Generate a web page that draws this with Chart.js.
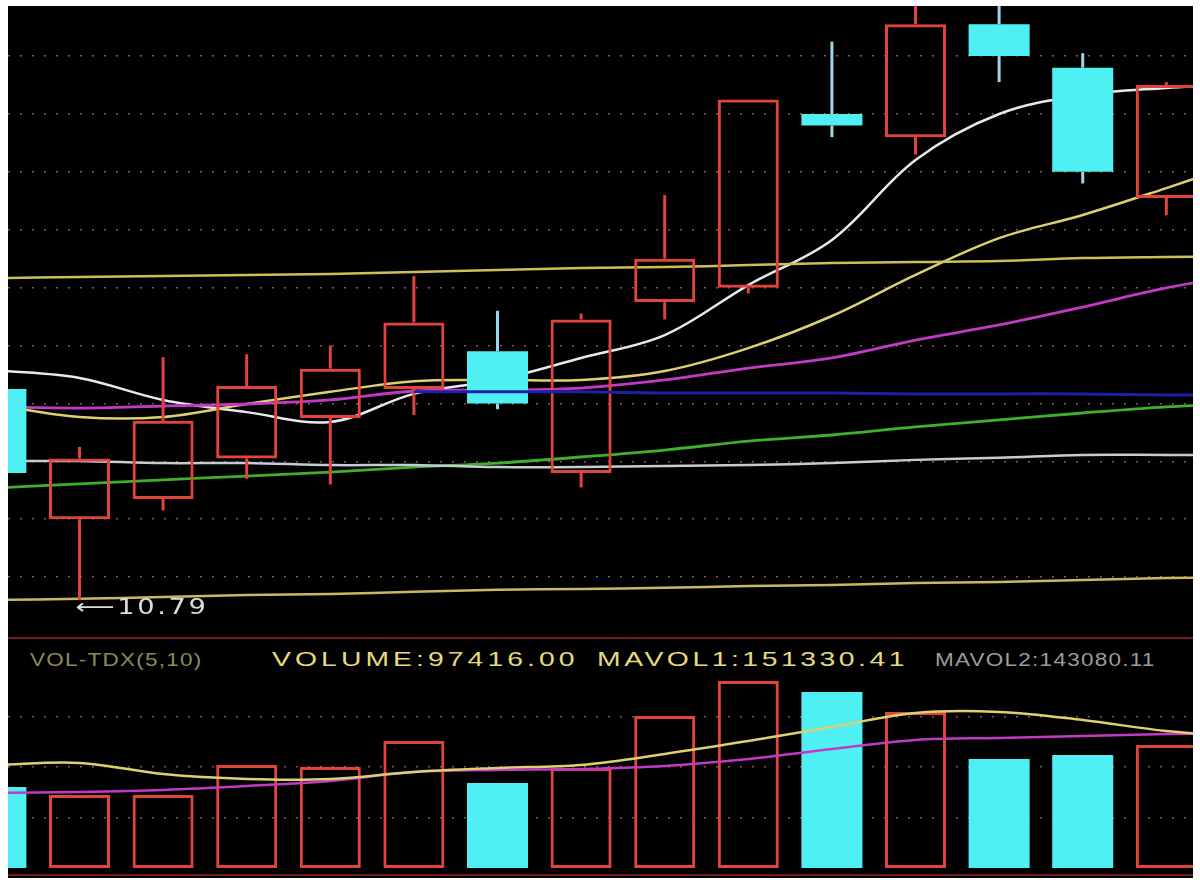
<!DOCTYPE html>
<html lang="en">
<head>
<meta charset="UTF-8">
<title>K-Line</title>
<style>
  body { margin: 0; background: #fff; font-family: "Liberation Sans", Arial, sans-serif; }
  #panel { position: absolute; left: 8px; top: 6px; width: 1185px; height: 872px; background: #000; overflow: hidden; }
  #priceChart { position: absolute; left: 0; top: 0; }
  #volChart { position: absolute; left: 0; top: 666px; }
  .sep { position: absolute; left: 0; width: 1185px; height: 2px; background: #741c1c; }
  #info span { position: absolute; top: 641px; white-space: nowrap; transform-origin: left top; }
  .hl { font-size: 21px; color: #e6d97e; letter-spacing: 3px; transform: scaleX(1.35); }
  .dim { font-size: 18px; letter-spacing: 1px; transform: scaleX(1.25); }
</style>
</head>
<body>
<div id="panel">
  <canvas id="priceChart" width="1185" height="629"></canvas>
  <div class="sep" style="top:631px"></div>
  <div id="info">
    <span class="dim" style="left:22px; top:644px; color:#8c8c56">VOL-TDX(5,10)</span>
    <span class="hl" style="left:264px">VOLUME:97416.00</span>
    <span class="hl" style="left:589px; letter-spacing:2.6px">MAVOL1:151330.41</span>
    <span class="dim" style="left:927px; top:644px; color:#9c9c9c">MAVOL2:143080.11</span>
  </div>
  <canvas id="volChart" width="1185" height="196"></canvas>
  <div class="sep" style="top:868px"></div>
</div>

<script src="https://cdn.jsdelivr.net/npm/chart.js@4"></script>
<script>
// day 15 is the next session, off the right edge; only its averages reach into view
const dayIndex = [0, 1, 2, 3, 4, 5, 6, 7, 8, 9, 10, 11, 12, 13, 14, 15];

const openP  = [11.52, 11.07, 11.14, 11.28, 11.42, 11.52, 11.65, 11.23, 11.82, 11.87, 12.47, 12.39, 12.78, 12.63, 12.18, null];
const highP  = [11.55, 11.32, 11.63, 11.64, 11.67, 11.91, 11.79, 11.78, 12.19, 12.52, 12.72, 12.90, 12.90, 12.68, 12.58, null];
const lowP   = [11.20, 10.79, 11.10, 11.21, 11.19, 11.43, 11.45, 11.18, 11.76, 11.85, 12.39, 12.33, 12.58, 12.23, 12.12, null];
const closeP = [11.23, 11.28, 11.41, 11.53, 11.59, 11.75, 11.47, 11.76, 11.97, 12.52, 12.43, 12.78, 12.67, 12.27, 12.57, null];

// moving averages / bands on the price panel
const ma5    = [11.585, 11.558, 11.482, 11.440, 11.406, 11.503, 11.551, 11.627, 11.706, 11.879, 12.035, 12.311, 12.470, 12.535, 12.560, 12.577];
const ma10   = [11.465, 11.423, 11.423, 11.468, 11.510, 11.547, 11.551, 11.551, 11.582, 11.661, 11.772, 11.914, 12.041, 12.121, 12.214, 12.311];
const ma20   = [11.458, 11.454, 11.461, 11.468, 11.482, 11.513, 11.516, 11.523, 11.551, 11.592, 11.627, 11.689, 11.741, 11.803, 11.869, 11.920];
const ma30   = [null, null, null, null, null, 11.510, 11.510, 11.510, 11.506, 11.506, 11.506, 11.503, 11.503, 11.503, 11.499, 11.499];
const ma60   = [11.178, 11.192, 11.206, 11.219, 11.233, 11.250, 11.264, 11.285, 11.309, 11.340, 11.361, 11.389, 11.413, 11.437, 11.458, 11.471];
const ma120  = [11.271, 11.271, 11.264, 11.264, 11.257, 11.257, 11.250, 11.250, 11.254, 11.257, 11.264, 11.275, 11.282, 11.292, 11.292, 11.292];
const bandUp = [11.903, 11.907, 11.910, 11.914, 11.917, 11.924, 11.931, 11.938, 11.941, 11.948, 11.955, 11.959, 11.962, 11.972, 11.976, 11.979];
const bandLo = [10.791, 10.795, 10.801, 10.808, 10.812, 10.819, 10.826, 10.829, 10.833, 10.839, 10.843, 10.850, 10.853, 10.860, 10.867, 10.870];

const volume = [64150, 57800, 57800, 81600, 80000, 100600, 67300, 79200, 120400, 148100, 139400, 123600, 86300, 89500, 97416, null];
const mavol1 = [81600, 83200, 74400, 70500, 70500, 76000, 79200, 81600, 90300, 100600, 111700, 122800, 123600, 117200, 108500, 103750];
const mavol2 = [59400, 60200, 61800, 64900, 68900, 76000, 77600, 78400, 80800, 86300, 94200, 101400, 103000, 104500, 106100, 106900];

const priceGrid = [10.87, 11.07, 11.27, 11.47, 11.67, 11.87, 12.07, 12.27, 12.47, 12.67];
const volGrid = [40000, 80000, 120000];

const UP = '#e0443c';
const DOWN = '#4ef0f4';
const DOWN_WICK = '#9cd6e8';
const CLEAR = 'rgba(0,0,0,0)';

const candleDays = dayIndex.filter(i => openP[i] !== null);
const isUp = candleDays.map(i => closeP[i] >= openP[i]);
const pts = arr => arr.map((v, i) => ({ x: dayIndex[i], y: v }));

const xScale = { type: 'linear', min: 0.145, max: 14.319, offset: false, display: false };

function maLine(data, color, order, width) {
    return {
        type: 'line', data: pts(data), borderColor: color, borderWidth: width || 2.5,
        pointRadius: 0, tension: 0.35, order: order
    };
}

const lowLabel = {
    id: 'lowLabel',
    afterDatasetsDraw(chart) {
        const lows = lowP.filter(v => v !== null);
        const lo = Math.min(...lows);
        const i = lowP.indexOf(lo);
        const x = chart.scales.x.getPixelForValue(dayIndex[i]);
        const y = chart.scales.y.getPixelForValue(lo);
        const ctx = chart.ctx;
        ctx.save();
        ctx.translate(x - 4, y + 8);
        ctx.scale(1.3, 1);
        ctx.font = '21px "DejaVu Sans", "Liberation Sans", sans-serif';
        ctx.letterSpacing = '2px';
        ctx.fillStyle = '#dcdcdc';
        ctx.textBaseline = 'middle';
        ctx.fillText('\u27F5' + lo.toFixed(2), 0, 0);
        ctx.restore();
    }
};

const gridStyle = {
    grid: { color: 'rgba(160,100,100,0.85)', lineWidth: 1.5, drawTicks: false },
    border: { display: false, dash: [2, 10] },
    ticks: { display: false }
};

// price panel
new Chart(document.getElementById('priceChart'), {
    type: 'bar',
    data: {
        datasets: [
            maLine(bandUp, '#cfc055', 3),
            maLine(bandLo, '#c9b860', 3),
            maLine(ma120, '#c4ccd4', 3),
            maLine(ma60, '#3fb02a', 3, 2.8),
            maLine(ma20, '#c23ac4', 3, 2.8),
            maLine(ma10, '#ddd070', 3),
            maLine(ma5, '#e8e8ee', 3),
            maLine(ma30, '#1c22a8', 0, 3),
            {
                type: 'bar', data: candleDays.map(i => ({ x: i, y: [Math.max(openP[i], closeP[i]), highP[i]] })),
                backgroundColor: isUp.map(u => u ? UP : DOWN_WICK), borderWidth: 0,
                maxBarThickness: 3, grouped: false, order: 2
            },
            {
                type: 'bar', data: candleDays.map(i => ({ x: i, y: [lowP[i], Math.min(openP[i], closeP[i])] })),
                backgroundColor: isUp.map(u => u ? UP : DOWN_WICK), borderWidth: 0,
                maxBarThickness: 3, grouped: false, order: 2
            },
            {
                type: 'bar', data: candleDays.map(i => ({ x: i, y: [openP[i], closeP[i]] })),
                backgroundColor: isUp.map(u => u ? CLEAR : DOWN),
                borderColor: isUp.map(u => u ? UP : DOWN),
                borderWidth: isUp.map(u => u ? 3 : 0), borderSkipped: false,
                barPercentage: 0.73, categoryPercentage: 1, grouped: false, order: 1
            }
        ]
    },
    options: {
        responsive: false, animation: false, devicePixelRatio: 1,
        layout: { padding: 0 },
        plugins: { legend: { display: false }, tooltip: { enabled: false } },
        scales: {
            x: xScale,
            y: Object.assign({
                min: 10.67, max: 12.843, beginAtZero: false,
                afterBuildTicks: s => { s.ticks = priceGrid.map(v => ({ value: v })); }
            }, gridStyle)
        }
    },
    plugins: [lowLabel]
});

// volume panel
new Chart(document.getElementById('volChart'), {
    type: 'bar',
    data: {
        datasets: [
            maLine(mavol1, '#ddd070', 0, 2.5),
            maLine(mavol2, '#c23ac4', 0, 2.5),
            {
                type: 'bar', data: candleDays.map(i => ({ x: i, y: volume[i] })),
                backgroundColor: isUp.map(u => u ? CLEAR : DOWN),
                borderColor: isUp.map(u => u ? UP : DOWN),
                borderWidth: isUp.map(u => u ? 3 : 0), borderSkipped: false,
                barPercentage: 0.73, categoryPercentage: 1, grouped: false, order: 1
            }
        ]
    },
    options: {
        responsive: false, animation: false, devicePixelRatio: 1,
        layout: { padding: 0 },
        plugins: { legend: { display: false }, tooltip: { enabled: false } },
        scales: {
            x: xScale,
            y: Object.assign({
                min: 0, max: 155200,
                afterBuildTicks: s => { s.ticks = volGrid.map(v => ({ value: v })); }
            }, gridStyle)
        }
    }
});
</script>
</body>
</html>
